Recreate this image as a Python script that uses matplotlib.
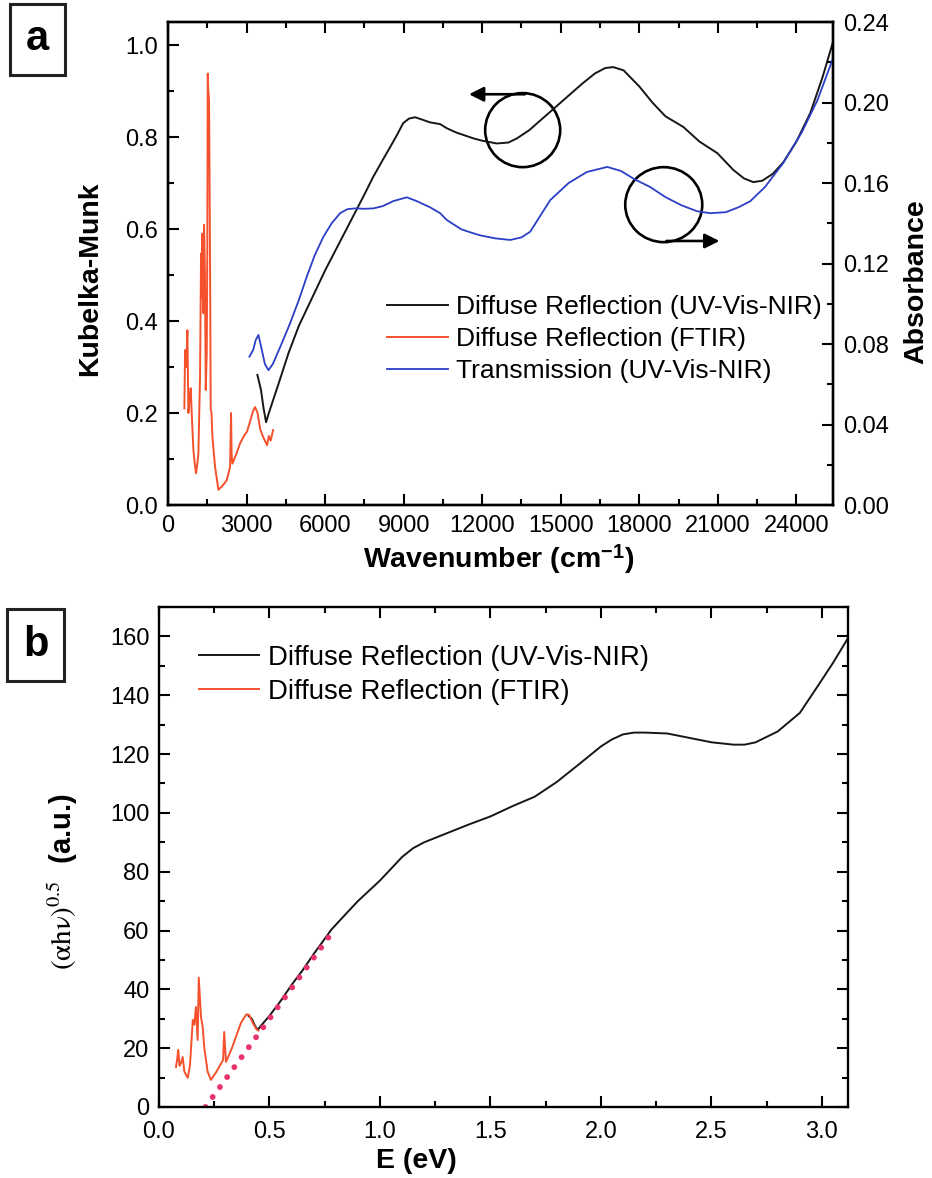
import numpy as np
import matplotlib
matplotlib.use("Agg")
import matplotlib.pyplot as plt
from matplotlib.patches import Ellipse
from matplotlib.ticker import MultipleLocator, FormatStrFormatter

plt.rcParams['font.family'] = ['Liberation Sans', 'DejaVu Sans']
plt.rcParams['mathtext.fontset'] = 'stix'

# ---- panel a data (wavenumber, cm-1) ----
ftir_wn = [624, 650, 700, 739, 777, 820, 866, 904, 968, 1020, 1070, 1120, 1159, 1223,
           1261, 1290, 1312, 1350, 1376, 1410, 1440, 1478, 1500, 1516, 1540, 1567, 1605,
           1630, 1660, 1694, 1796, 1924, 2050, 2150, 2242, 2370, 2407, 2430, 2459, 2600,
           2751, 2900, 3019, 3150, 3250, 3325, 3420, 3520, 3630, 3700, 3783, 3850, 3920, 4012]
ftir_km = [0.21, 0.337, 0.30, 0.38, 0.20, 0.23, 0.254, 0.20, 0.12, 0.09, 0.069, 0.09, 0.112, 0.283,
           0.547, 0.45, 0.59, 0.417, 0.609, 0.50, 0.25, 0.33, 0.55, 0.938, 0.90, 0.88, 0.525,
           0.21, 0.20, 0.149, 0.083, 0.033, 0.04, 0.047, 0.054, 0.083, 0.20, 0.11, 0.09, 0.11,
           0.134, 0.15, 0.16, 0.185, 0.205, 0.213, 0.20, 0.165, 0.148, 0.14, 0.13, 0.15, 0.14, 0.163]

uv_wn = [3413, 3550, 3650, 3745, 3850, 4200, 4600, 5000, 5500, 6000, 6500, 7000, 7500, 7833,
         8200, 8483, 8750, 8980, 9200, 9438, 9700, 10000, 10394, 10650, 11000, 11667, 12000,
         12560, 13000, 13325, 13800, 14300, 14800, 15300, 15800, 16300, 16700, 17000, 17400,
         18000, 18500, 19000, 19680, 20300, 20980, 21600, 22000, 22354, 22700, 23100, 23500,
         24000, 24530, 25000, 25400]
uv_km = [0.283, 0.25, 0.21, 0.18, 0.20, 0.26, 0.33, 0.39, 0.45, 0.51, 0.565, 0.62, 0.675, 0.713,
         0.75, 0.778, 0.805, 0.83, 0.84, 0.843, 0.838, 0.832, 0.828, 0.819, 0.81, 0.797, 0.792,
         0.786, 0.788, 0.797, 0.815, 0.84, 0.865, 0.89, 0.915, 0.938, 0.95, 0.952, 0.945,
         0.91, 0.875, 0.845, 0.822, 0.79, 0.765, 0.728, 0.71, 0.702, 0.705, 0.72, 0.745,
         0.79, 0.852, 0.93, 1.007]

tr_wn = [3108, 3250, 3350, 3452, 3550, 3700, 3835, 4000, 4300, 4662, 5000, 5300, 5600, 5935,
         6250, 6572, 6850, 7146, 7500, 7846, 8200, 8600, 9120, 9500, 10000, 10394, 10650,
         11200, 11667, 11922, 12500, 13068, 13500, 13833, 14597, 15300, 16000, 16775, 17300,
         17800, 18418, 19000, 19600, 20200, 20711, 21300, 21800, 22240, 22800, 23500, 24200,
         24800, 25400]
tr_abs = [0.0737, 0.077, 0.082, 0.0845, 0.079, 0.070, 0.067, 0.070, 0.079, 0.0903, 0.102, 0.1135, 0.124, 0.1333,
          0.140, 0.145, 0.147, 0.1474, 0.1472, 0.1474, 0.1485, 0.151, 0.1529, 0.151, 0.148, 0.145, 0.1416,
          0.137, 0.135, 0.134, 0.1325, 0.1317, 0.133, 0.1358, 0.1515, 0.160, 0.1655, 0.168, 0.166,
          0.162, 0.158, 0.153, 0.149, 0.146, 0.145, 0.1455, 0.148, 0.151, 0.158, 0.170, 0.185,
          0.201, 0.222]

# ---- panel b data (photon energy, eV) ----
ftir_e = [0.077, 0.082, 0.087, 0.093, 0.1, 0.107, 0.115, 0.13, 0.14, 0.153, 0.16, 0.167, 0.175,
          0.18, 0.19, 0.198, 0.205, 0.22, 0.235, 0.26, 0.29, 0.295, 0.303, 0.33, 0.371, 0.395, 0.408,
          0.425, 0.44, 0.45]
ftir_ahv = [13.6, 16, 19.4, 14, 15, 17, 12, 9.9, 14, 29.6, 28, 34, 22.8,
            44, 30.6, 27, 20, 12, 9.2, 12, 16, 25.5, 15.3, 20, 28.6, 31.5, 31.3,
            28.5, 26.5, 26]

uv_e = [0.405, 0.42, 0.435, 0.447, 0.46, 0.5, 0.55, 0.6, 0.65, 0.7, 0.78, 0.85, 0.9, 0.95,
        1.0, 1.05, 1.1, 1.15, 1.2, 1.3, 1.4, 1.5, 1.6, 1.7, 1.8, 1.9, 2.0, 2.05, 2.1, 2.15,
        2.2, 2.3, 2.4, 2.5, 2.6, 2.65, 2.7, 2.8, 2.9, 2.98, 3.05, 3.12]
uv_ahv = [31, 30, 27.5, 26.2, 27.5, 31, 36, 41.5, 46.5, 52, 60.3, 66, 70, 73.5,
          77, 81, 85, 88, 90, 93, 96, 98.8, 102.3, 105.5, 110.5, 116.5, 122.6, 125, 126.7, 127.3,
          127.3, 127, 125.5, 124, 123.2, 123.2, 124, 127.7, 134, 143, 151, 159.7]

fit_e = [0.21, 0.79]
fit_ahv = [0, 60]

BLACK = '#161616'
ORANGE = '#f4512c'
BLUE = '#2b3fc6'

fig = plt.figure(figsize=(9.32, 11.78), dpi=100)


def style(ax):
    for s in ax.spines.values():
        s.set_linewidth(1.7)
    ax.tick_params(which='both', direction='in', width=1.5, labelsize=17, pad=7)
    ax.tick_params(which='major', length=8)
    ax.tick_params(which='minor', length=4.5)


# ------------- panel a -------------
ax1 = fig.add_axes([0.1803, 0.5713, 0.7135, 0.410])
ax2 = ax1.twinx()
l1, = ax1.plot(uv_wn, uv_km, color=BLACK, lw=1.4, label='Diffuse Reflection (UV-Vis-NIR)')
l2, = ax1.plot(ftir_wn, ftir_km, color=ORANGE, lw=1.4, label='Diffuse Reflection (FTIR)')
l3, = ax2.plot(tr_wn, tr_abs, color=BLUE, lw=1.3, label='Transmission (UV-Vis-NIR)')

ax1.set_xlim(0, 25400)
ax1.set_ylim(0, 1.05)
ax2.set_ylim(0, 0.24)
ax1.xaxis.set_major_locator(MultipleLocator(3000))
ax1.xaxis.set_minor_locator(MultipleLocator(1500))
ax1.yaxis.set_major_locator(MultipleLocator(0.2))
ax1.yaxis.set_minor_locator(MultipleLocator(0.1))
ax1.yaxis.set_major_formatter(FormatStrFormatter('%.1f'))
ax2.yaxis.set_major_locator(MultipleLocator(0.04))
ax2.yaxis.set_minor_locator(MultipleLocator(0.02))
ax2.yaxis.set_major_formatter(FormatStrFormatter('%.2f'))
style(ax1)
style(ax2)
ax1.tick_params(which='both', top=True)

ax1.set_xlabel('Wavenumber (cm$^{\\mathregular{-1}}$)', fontsize=20.5, fontweight='bold')
ax1.set_ylabel('Kubelka-Munk', fontsize=20.5, fontweight='bold')
ax2.set_ylabel('Absorbance', fontsize=20.5, fontweight='bold')
ax1.xaxis.set_label_coords(0.497, -0.078)
ax1.yaxis.set_label_coords(-0.098, 0.468)
ax2.yaxis.set_label_coords(1.105, 0.462)

ax1.legend(handles=[l1, l2, l3], loc='upper left', bbox_to_anchor=(0.330, 0.434),
           frameon=False, fontsize=19, handlelength=2.3, handletextpad=0.3,
           labelspacing=0.3, borderpad=0, borderaxespad=0)

# circles with arrows
ax1.add_patch(Ellipse((13546, 0.815), 2866, 0.161, fill=False, lw=1.9, color='black'))
ax1.annotate('', xy=(11387, 0.893), xytext=(13737, 0.893),
             arrowprops=dict(arrowstyle='-|>', lw=1.9, color='black', mutation_scale=22))
ax1.add_patch(Ellipse((18934, 0.653), 2942, 0.163, fill=False, lw=1.9, color='black'))
ax1.annotate('', xy=(21169, 0.574), xytext=(18934, 0.574),
             arrowprops=dict(arrowstyle='-|>', lw=1.9, color='black', mutation_scale=22))

# ------------- panel b -------------
bx = fig.add_axes([0.1706, 0.0603, 0.7393, 0.4244])
m1, = bx.plot(uv_e, uv_ahv, color=BLACK, lw=1.4, label='Diffuse Reflection (UV-Vis-NIR)')
m2, = bx.plot(ftir_e, ftir_ahv, color=ORANGE, lw=1.4, label='Diffuse Reflection (FTIR)')
bx.plot(fit_e, fit_ahv, color='#e8336b', lw=4.2, linestyle=(0, (0.01, 2.1)),
        dash_capstyle='round')
bx.set_xlim(0, 3.118)
bx.set_ylim(0, 170)
bx.xaxis.set_major_locator(MultipleLocator(0.5))
bx.xaxis.set_minor_locator(MultipleLocator(0.25))
bx.yaxis.set_major_locator(MultipleLocator(20))
bx.yaxis.set_minor_locator(MultipleLocator(10))
bx.xaxis.set_major_formatter(FormatStrFormatter('%.1f'))
style(bx)
bx.tick_params(which='both', top=True, right=True)
bx.tick_params(axis='x', pad=10)
bx.set_xlabel('E (eV)', fontsize=20.5, fontweight='bold')
bx.set_ylabel('$\\mathrm{(\\alpha h\\nu)^{0.5}}$  (a.u.)', fontsize=21, fontweight='bold')
bx.xaxis.set_label_coords(0.374, -0.082)
bx.yaxis.set_label_coords(-0.115, 0.45)
bx.legend(handles=[m1, m2], loc='upper left', bbox_to_anchor=(0.058, 0.925),
          frameon=False, fontsize=19.8, handlelength=2.2, handletextpad=0.3,
          labelspacing=0.3, borderpad=0, borderaxespad=0)

# panel letters
for lab, x, y in [('a', 0.0402, 0.9665), ('b', 0.0386, 0.4525)]:
    fig.text(x, y, lab, fontsize=30, fontweight='bold', ha='center', va='center',
             bbox=dict(boxstyle='square,pad=0.38', fc='white', ec='#222222', lw=2.2))

fig.savefig('out.png', dpi=100)
